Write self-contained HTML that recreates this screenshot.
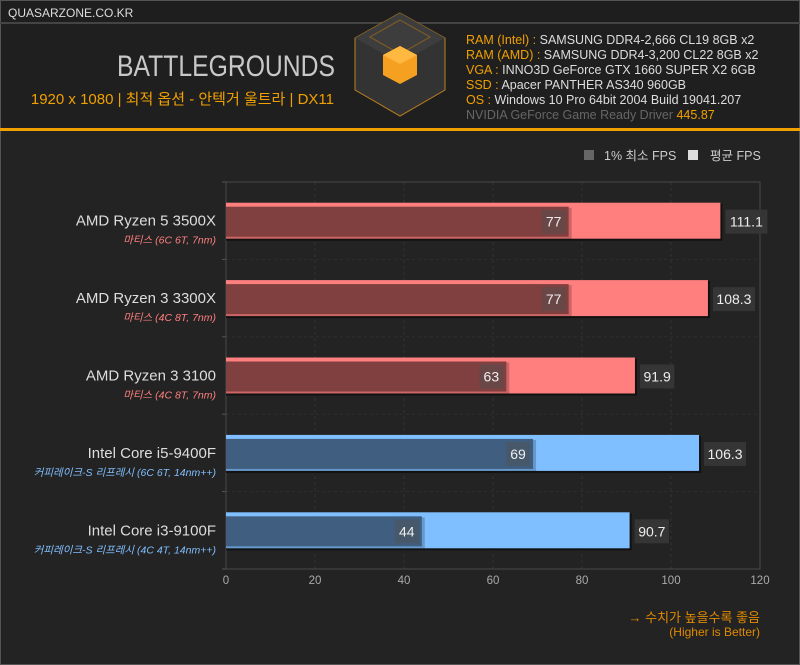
<!DOCTYPE html>
<html><head><meta charset="utf-8"><style>
body{margin:0;width:800px;height:665px;background:#222;overflow:hidden;font-family:"Liberation Sans","Noto Sans CJK KR",sans-serif;}
svg{display:block}
</style></head><body>
<svg id="c" width="800" height="665" xmlns="http://www.w3.org/2000/svg">
<rect x="0" y="0" width="800" height="665" fill="#232323"/>
<rect x="0.5" y="0.5" width="799" height="664" fill="none" stroke="#555"/>
<rect x="1" y="1" width="798" height="22" fill="#1e1e1e"/>
<line x1="0" y1="23" x2="800" y2="23" stroke="#444" stroke-width="2"/>
<text x="8" y="17" fill="#ddd" font-size="12">QUASARZONE.CO.KR</text>
<rect x="1" y="24" width="798" height="105" fill="#1f1f1f"/>
<rect x="0" y="128" width="800" height="3" fill="#f0a000"/>
<text x="335" y="76" text-anchor="end" fill="#c8c8c8" font-size="30" textLength="218" lengthAdjust="spacingAndGlyphs">BATTLEGROUNDS</text>
<text x="334" y="104" text-anchor="end" fill="#f0a000" font-size="15">1920 x 1080 | 최적 옵션 - 안텍거 울트라 | DX11</text>
<g>
<polygon points="400,13 445,38 445,90 400,116 355,90 355,38" fill="#333" stroke="#c08020" stroke-width="1"/>
<polygon points="400,13 445,38 400,63 355,38" fill="#3d3d3d"/>
<polygon points="400,20 430,37 400,54 370,37" fill="none" stroke="#8a6020"/>
<polygon points="400,46 417,55 417,75 400,84 383,75 383,55" fill="#f5a020"/>
<polygon points="400,46 417,55 400,64 383,55" fill="#ffb840"/>
</g>
<g font-size="12.5">
<text x="466" y="44"><tspan fill="#f0a000">RAM (Intel) : </tspan><tspan fill="#ddd">SAMSUNG DDR4-2,666 CL19 8GB x2</tspan></text>
<text x="466" y="59"><tspan fill="#f0a000">RAM (AMD) : </tspan><tspan fill="#ddd">SAMSUNG DDR4-3,200 CL22 8GB x2</tspan></text>
<text x="466" y="74"><tspan fill="#f0a000">VGA : </tspan><tspan fill="#ddd">INNO3D GeForce GTX 1660 SUPER X2 6GB</tspan></text>
<text x="466" y="89"><tspan fill="#f0a000">SSD : </tspan><tspan fill="#ddd">Apacer PANTHER AS340 960GB</tspan></text>
<text x="466" y="104"><tspan fill="#f0a000">OS : </tspan><tspan fill="#ddd">Windows 10 Pro 64bit 2004 Build 19041.207</tspan></text>
<text x="466" y="119"><tspan fill="#666">NVIDIA GeForce Game Ready Driver </tspan><tspan fill="#f0a000">445.87</tspan></text>
</g>
<g>
<rect x="584" y="150" width="10" height="10" fill="#666"/>
<text x="604" y="160" fill="#ccc" font-size="12.5">1% 최소 FPS</text>
<rect x="688" y="150" width="10" height="10" fill="#ddd"/>
<text x="710" y="160" fill="#ccc" font-size="12.5">평균 FPS</text>
</g>
<g id="plot"></g>
<text x="760" y="622" text-anchor="end" fill="#e08a00" font-size="13">→ 수치가 높을수록 좋음</text>
<text x="760" y="636" text-anchor="end" fill="#e08a00" font-size="12">(Higher is Better)</text>
</svg>
<script>
const names=["AMD Ryzen 5 3500X","AMD Ryzen 3 3300X","AMD Ryzen 3 3100","Intel Core i5-9400F","Intel Core i3-9100F"];
const subs=["마티스 (6C 6T, 7nm)","마티스 (4C 8T, 7nm)","마티스 (4C 8T, 7nm)","커피레이크-S 리프레시 (6C 6T, 14nm++)","커피레이크-S 리프레시 (4C 4T, 14nm++)"];
const vendor=["amd","amd","amd","intel","intel"];
const avgFps=[111.1,108.3,91.9,106.3,90.7];
const minFps=[77,77,63,69,44];
const ticks=[0,20,40,60,80,100,120];
const X0=226,X1=760,Y0=182,Y1=569,XMAX=120;
const x=v=>X0+(X1-X0)*v/XMAX;
const band=(Y1-Y0)/names.length;
const yc=i=>Y0+band*(i+0.5);
const NS="http://www.w3.org/2000/svg";
const g=document.getElementById('plot');
function mk(t,a,p){const e=document.createElementNS(NS,t);for(const k in a)e.setAttribute(k,a[k]);(p||g).appendChild(e);return e;}
ticks.forEach(t=>{
  if(t>0&&t<XMAX){const l=mk('line',{x1:x(t),y1:Y0,x2:x(t),y2:Y1,stroke:'#333','stroke-dasharray':'3,3'});
  
  }
  const tx=mk('text',{x:x(t),y:Y1+15,'text-anchor':'middle',fill:'#aaa','font-size':'11.5'});tx.textContent=t;
  
  
});
for(let i=0;i<=names.length;i++){const l=mk('line',{x1:X0,y1:Y0+band*i,x2:X1,y2:Y0+band*i,stroke:'#2e2e2e','stroke-dasharray':'3,3'});


mk('line',{x1:X0-4,y1:Y0+band*i,x2:X0,y2:Y0+band*i,stroke:'#555'});}
const fr=mk('rect',{x:X0,y:Y0,width:X1-X0,height:Y1-Y0,fill:'none',stroke:'#4a4a4a'});


names.forEach((n,i)=>{
  const c=yc(i),amd=vendor[i]==='amd';
  const avgC=amd?'#ff7f7f':'#80bfff',minC=amd?'#804040':'#405f80',subC=amd?'#ff7f7f':'#80bfff';
  const lb=mk('text',{x:216,y:c+5,'text-anchor':'end',fill:'#ddd','font-size':'15'});lb.textContent=n;
  
  
  const sb=mk('text',{x:216,y:c+23,'text-anchor':'end',fill:subC,'font-size':'10.5','font-style':'italic'});sb.textContent=subs[i];
  
  
  mk('rect',{x:X0,y:c-17,width:x(avgFps[i])-X0+2,height:37,fill:'#111'});
  const a=mk('rect',{x:X0,y:c-18,width:x(avgFps[i])-X0,height:36,fill:avgC});
  
  
  mk('rect',{x:X0,y:c-13,width:x(minFps[i])-X0+3,height:31,fill:'rgba(0,0,0,0.2)'});
  const m=mk('rect',{x:X0,y:c-14,width:x(minFps[i])-X0,height:30,fill:minC});
  
  
  const bw=minFps[i]>=100?32:24;
  mk('rect',{x:x(minFps[i])-bw-3,y:c-11,width:bw,height:24,fill:'rgba(80,80,80,0.45)'});
  const mt=mk('text',{x:x(minFps[i])-3-bw/2,y:c+6,'text-anchor':'middle',fill:'#eee','font-size':'14'});mt.textContent=minFps[i];
  
  
  const s=String(avgFps[i]);
  const aw=s.length*7.6+4;
  mk('rect',{x:x(avgFps[i])+5,y:c-11,width:aw,height:24,fill:'#353535'});
  const at=mk('text',{x:x(avgFps[i])+7+(aw-4)/2,y:c+6,'text-anchor':'middle',fill:'#eee','font-size':'14'});at.textContent=s;
  
  
});
</script>
</body></html>
